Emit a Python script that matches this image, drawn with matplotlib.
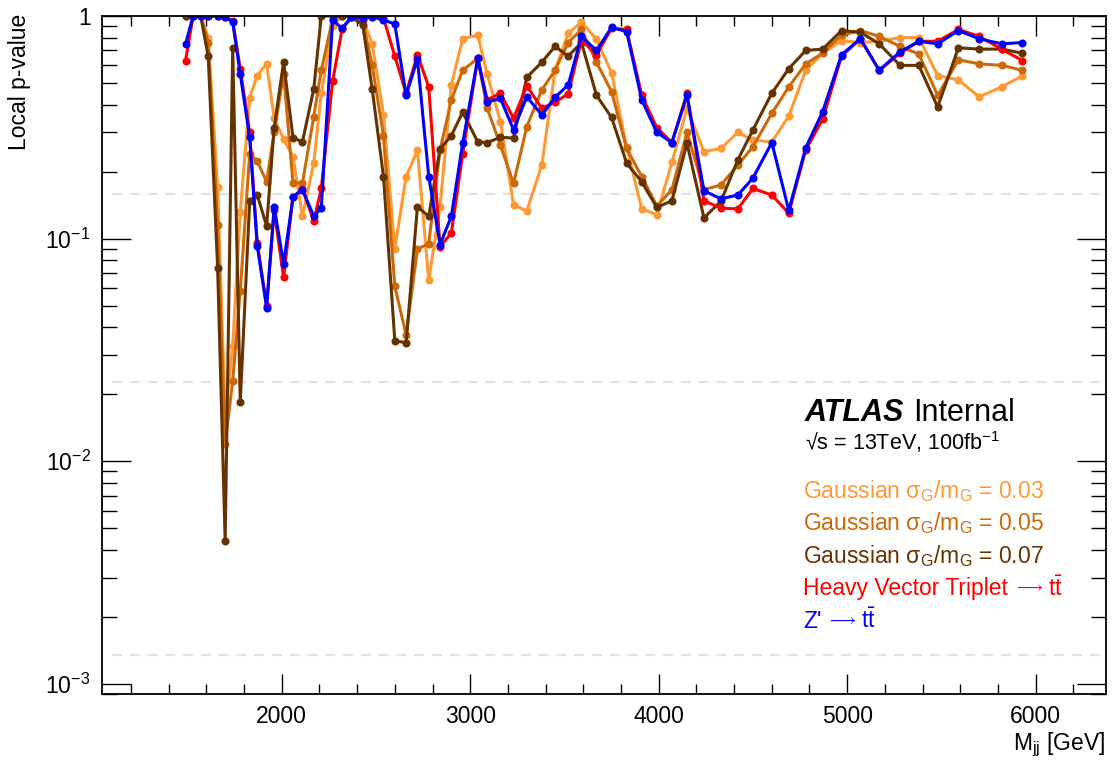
import matplotlib
matplotlib.use("Agg")
import matplotlib.pyplot as plt
from matplotlib.ticker import MultipleLocator, LogLocator, FixedLocator, FixedFormatter, NullFormatter

plt.rcParams["font.family"] = ["Liberation Sans", "DejaVu Sans"]
plt.rcParams["mathtext.fontset"] = "custom"
plt.rcParams["mathtext.rm"] = "Liberation Sans"
plt.rcParams["mathtext.it"] = "Liberation Sans:italic"
plt.rcParams["mathtext.bf"] = "Liberation Sans:bold"

# signal mass points [GeV]
masses = [1490, 1530, 1570, 1610, 1660, 1700, 1740, 1780, 1830, 1870,
          1920, 1960, 2010, 2060, 2110, 2170, 2210, 2270, 2320, 2370,
          2430, 2480, 2540, 2600, 2660, 2720, 2780, 2840, 2900, 2960,
          3040, 3090, 3160, 3230, 3300, 3380, 3450, 3520, 3590, 3670,
          3750, 3830, 3910, 3990, 4070, 4150, 4240, 4330, 4420, 4500,
          4600, 4690, 4780, 4870, 4970, 5070, 5170, 5280, 5380, 5480,
          5590, 5700, 5820, 5930]

# local p-values
p_gaus003 = [1.0, 1.0, 1.0, 0.80, 0.17, 0.016, 0.033, 0.132, 0.43, 0.54,
             0.61, 0.347, 0.28, 0.233, 0.126, 0.218, 0.45, 0.90, 1.0, 1.0,
             0.97, 0.75, 0.36, 0.09, 0.19, 0.25, 0.065, 0.139, 0.49, 0.79,
             0.82, 0.55, 0.335, 0.142, 0.133, 0.214, 0.57, 0.835, 0.94, 0.786,
             0.556, 0.258, 0.136, 0.128, 0.22, 0.385, 0.246, 0.254, 0.30, 0.277,
             0.272, 0.355, 0.57, 0.68, 0.775, 0.76, 0.77, 0.80, 0.80, 0.54,
             0.516, 0.434, 0.48, 0.54]
p_gaus005 = [1.0, 1.0, 1.0, 0.76, 0.115, 0.012, 0.023, 0.058, 0.24, 0.223,
             0.18, 0.30, 0.55, 0.178, 0.178, 0.353, 0.57, 0.97, 1.0, 1.0,
             0.95, 0.60, 0.29, 0.061, 0.037, 0.0896, 0.095, 0.25, 0.42, 0.57,
             0.645, 0.385, 0.263, 0.177, 0.318, 0.466, 0.57, 0.76, 0.87, 0.62,
             0.457, 0.254, 0.19, 0.14, 0.166, 0.30, 0.166, 0.174, 0.214, 0.259,
             0.365, 0.48, 0.61, 0.68, 0.82, 0.86, 0.81, 0.73, 0.675, 0.44,
             0.635, 0.61, 0.60, 0.57]
p_gaus007 = [1.0, 1.0, 1.0, 0.66, 0.074, 0.0044, 0.72, 0.0184, 0.147, 0.157,
             0.114, 0.315, 0.62, 0.284, 0.272, 0.47, 1.0, 1.0, 1.0, 0.99,
             0.91, 0.47, 0.19, 0.0348, 0.034, 0.139, 0.126, 0.253, 0.29, 0.37,
             0.272, 0.27, 0.285, 0.283, 0.53, 0.62, 0.73, 0.66, 0.76, 0.44,
             0.35, 0.218, 0.18, 0.138, 0.148, 0.268, 0.124, 0.147, 0.226, 0.308,
             0.45, 0.58, 0.70, 0.71, 0.86, 0.845, 0.75, 0.60, 0.60, 0.39,
             0.72, 0.71, 0.71, 0.68]
p_hvt = [0.63, 1.0, 1.0, 1.0, 1.0, 0.99, 0.95, 0.58, 0.30, 0.096,
         0.05, 0.134, 0.067, 0.154, 0.167, 0.12, 0.168, 0.51, 0.87, 0.99,
         0.98, 0.99, 0.98, 0.66, 0.45, 0.67, 0.48, 0.092, 0.106, 0.24,
         0.645, 0.42, 0.45, 0.347, 0.485, 0.385, 0.41, 0.447, 0.78, 0.67,
         0.88, 0.87, 0.44, 0.315, 0.27, 0.45, 0.148, 0.137, 0.136, 0.168,
         0.157, 0.13, 0.25, 0.344, 0.66, 0.79, 0.57, 0.68, 0.77, 0.77,
         0.87, 0.81, 0.71, 0.63]
p_zprime = [0.75, 1.0, 1.0, 1.0, 1.0, 0.99, 0.94, 0.55, 0.285, 0.093,
            0.049, 0.139, 0.077, 0.154, 0.166, 0.126, 0.137, 0.96, 0.88, 0.99,
            0.98, 0.99, 0.96, 0.92, 0.44, 0.64, 0.19, 0.094, 0.126, 0.268,
            0.645, 0.41, 0.427, 0.308, 0.434, 0.359, 0.431, 0.49, 0.81, 0.70,
            0.89, 0.85, 0.42, 0.30, 0.27, 0.44, 0.164, 0.151, 0.157, 0.187,
            0.27, 0.134, 0.256, 0.372, 0.67, 0.79, 0.57, 0.69, 0.77, 0.75,
            0.86, 0.79, 0.75, 0.76]

# one-sided p-values for 1, 2, 3 sigma
sigma_lines = [0.1587, 0.02275, 0.00135]

# legend entries: (text before arrow, text after arrow or None)
labels = [(r"Gaussian $\mathrm{\sigma_{G}/m_{G}}$ = 0.03", None),
          (r"Gaussian $\mathrm{\sigma_{G}/m_{G}}$ = 0.05", None),
          (r"Gaussian $\mathrm{\sigma_{G}/m_{G}}$ = 0.07", None),
          ("Heavy Vector Triplet", r"t$\mathrm{\bar{t}}$"),
          ("Z'", r"t$\mathrm{\bar{t}}$")]
colors = ["#FF9933", "#CC6A0A", "#663300", "#FF0000", "#0000FF"]
values = [p_gaus003, p_gaus005, p_gaus007, p_hvt, p_zprime]

W, H = 1113, 765
fig = plt.figure(figsize=(W / 100, H / 100), dpi=100)
ax = fig.add_axes([101.7 / W, 1 - 694 / H, (1106 - 101.7) / W, (694 - 16) / H])

for p in sigma_lines:
    ax.plot([1100, 6373], [p, p], color="#e3e3e3", lw=1.6, ls=(0, (4.5, 3.5)), zorder=0)

for vals, col in zip(values, colors):
    ax.plot(masses, vals, color=col, lw=2.2, marker="o", ms=4.8,
            mfc=col, mec=col, zorder=2)

ax.set_yscale("log")
ax.set_xlim(1045, 6373)
ax.set_ylim(9.0e-4, 1.0)

ax.xaxis.set_major_locator(MultipleLocator(1000))
ax.xaxis.set_minor_locator(MultipleLocator(200))
ax.yaxis.set_major_locator(FixedLocator([1e-3, 1e-2, 1e-1, 1]))
ax.yaxis.set_major_formatter(FixedFormatter([r"$10^{-3}$", r"$10^{-2}$", r"$10^{-1}$", "1"]))
ax.yaxis.set_minor_locator(LogLocator(base=10, subs=range(2, 10)))
ax.yaxis.set_minor_formatter(NullFormatter())

ax.tick_params(axis="both", which="both", direction="in", top=True, right=True,
               width=1.0, labelsize=16.5, colors="black")
ax.tick_params(axis="x", which="major", length=14.5, pad=8)
ax.tick_params(axis="x", which="minor", length=7.2)
ax.tick_params(axis="y", which="major", length=21, pad=8)
ax.tick_params(axis="y", which="minor", length=11)
for s in ax.spines.values():
    s.set_linewidth(1.3)

fig.text(20 / W, 1 - 14 / H, "Local p-value", rotation=90, ha="center", va="top", fontsize=16.5)
fig.text(1105 / W, 1 - 745 / H, r"M$_{\mathrm{jj}}$ [GeV]", ha="right", va="center", fontsize=16.5)

fig.text(805 / W, 1 - 413 / H, "ATLAS", fontsize=22, weight="bold", style="italic", va="center")
fig.text(913 / W, 1 - 413 / H, "Internal", fontsize=22, va="center")
fig.text(805 / W, 1 - 442 / H, "\u221as = 13TeV, 100fb$^{-1}$", fontsize=15.5, va="center")

renderer = fig.canvas.get_renderer()
for i, ((first, after), col) in enumerate(zip(labels, colors)):
    yy = 1 - (491 + 32.5 * i) / H
    t = fig.text(803 / W, yy, first, color=col, fontsize=16.5, va="center")
    if after is None:
        continue
    x = t.get_window_extent(renderer).x1 + 6
    arr = fig.text(x / W, yy + 1.5 / H, r"$\longrightarrow$", color=col, fontsize=12,
                   va="center", math_fontfamily="stixsans")
    x = arr.get_window_extent(renderer).x1 + 4
    fig.text(x / W, yy, after, color=col, fontsize=16.5, va="center")

fig.savefig("out.png", dpi=100)
